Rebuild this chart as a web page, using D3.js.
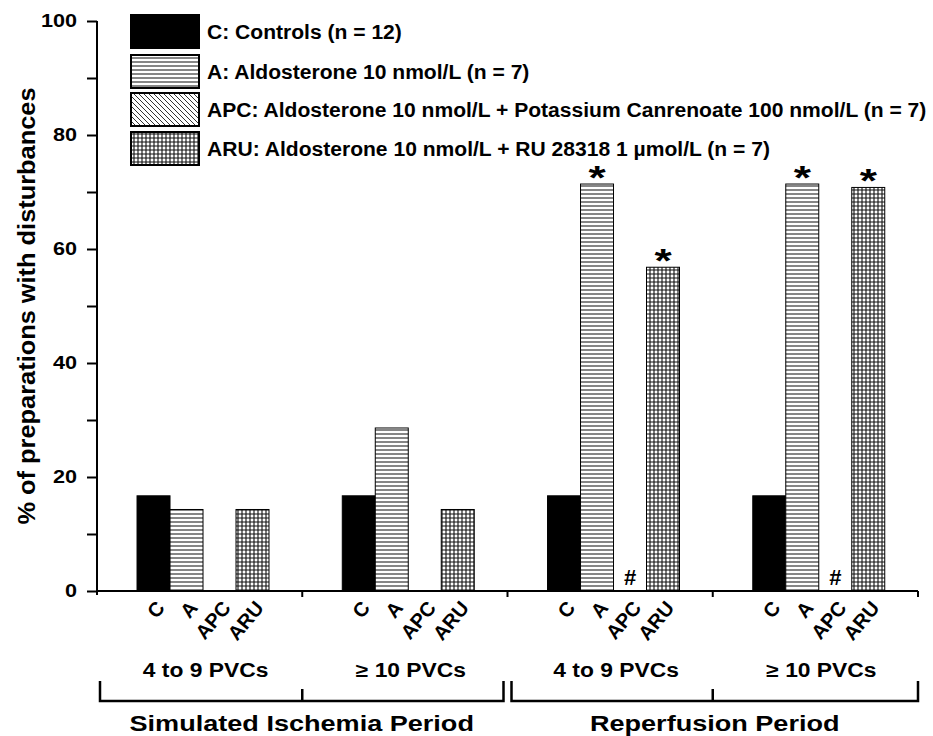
<!DOCTYPE html>
<html>
<head>
<meta charset="utf-8">
<script src="https://cdn.jsdelivr.net/npm/d3@7"></script>
<style>
  body { margin: 0; background: #fff; }
  text { font-family: "Liberation Sans", Arial, sans-serif; font-weight: bold; fill: #000; }
</style>
</head>
<body>
<svg id="chart" width="933" height="736"></svg>
<script>
// data
const groups = ["4 to 9 PVCs", "\u2265 10 PVCs", "4 to 9 PVCs", "\u2265 10 PVCs"];
const treatments = ["C", "A", "APC", "ARU"];
const legendLabels = [
  "C: Controls (n = 12)",
  "A: Aldosterone 10 nmol/L (n = 7)",
  "APC: Aldosterone 10 nmol/L + Potassium Canrenoate 100 nmol/L (n = 7)",
  "ARU: Aldosterone 10 nmol/L + RU 28318 1 \u00b5mol/L (n = 7)"
];
const valuesC = [16.7, 16.7, 16.7, 16.7];
const valuesA = [14.3, 28.6, 71.4, 71.4];
const valuesAPC = [0, 0, 0, 0];
const valuesARU = [14.3, 14.3, 56.8, 70.8];
// significance marks per treatment/group
const marksA = ["", "", "*", "*"];
const marksAPC = ["", "", "#", "#"];
const marksARU = ["", "", "*", "*"];
const periods = ["Simulated Ischemia Period", "Reperfusion Period"];
const yTicks = [0, 10, 20, 30, 40, 50, 60, 70, 80, 90, 100];

const series = {C: valuesC, A: valuesA, APC: valuesAPC, ARU: valuesARU};
const marks = {A: marksA, APC: marksAPC, ARU: marksARU};

let svg = d3.select("#chart");

// the original figure is stretched sideways, so widen the text to match
function stretch(sel, k) {
    sel.each(function() {
        let w = this.getComputedTextLength();
        d3.select(this).attr("textLength", w * k).attr("lengthAdjust", "spacingAndGlyphs");
    });
}

// patterns
let defs = svg.append("defs");
let pH = defs.append("pattern").attr("id", "pat-A")
    .attr("patternUnits", "userSpaceOnUse").attr("width", 8).attr("height", 4);
pH.append("rect").attr("width", 8).attr("height", 4).attr("fill", "#fff");
pH.append("line").attr("x1", 0).attr("x2", 8).attr("y1", 2).attr("y2", 2)
    .attr("stroke", "#222").attr("stroke-width", 1.1);

let pD = defs.append("pattern").attr("id", "pat-APC")
    .attr("patternUnits", "userSpaceOnUse").attr("width", 5).attr("height", 5);
pD.append("rect").attr("width", 5).attr("height", 5).attr("fill", "#fff");
pD.append("path").attr("d", "M0,0 L5,5 M-1,4 L1,6 M4,-1 L6,1")
    .attr("stroke", "#333").attr("stroke-width", 1);

let pG = defs.append("pattern").attr("id", "pat-ARU")
    .attr("patternUnits", "userSpaceOnUse").attr("width", 4).attr("height", 4);
pG.append("rect").attr("width", 4).attr("height", 4).attr("fill", "#fff");
pG.append("path").attr("d", "M0,2 L4,2 M2,0 L2,4")
    .attr("stroke", "#111").attr("stroke-width", 1.1);

const fills = {C: "#000", A: "url(#pat-A)", APC: "url(#pat-APC)", ARU: "url(#pat-ARU)"};

// scales
let x0 = d3.scaleBand().domain(d3.range(groups.length)).range([97, 918]);
let bw = x0.bandwidth();
let x1 = d3.scaleBand().domain(treatments).range([bw * 0.195, bw * 0.838]);
let y = d3.scaleLinear().domain([0, 100]).range([591, 21]);

// bars
let g = svg.append("g");
treatments.forEach(t => {
    g.selectAll(".bar-" + t)
     .data(series[t].map((v, i) => ({v: v, i: i})).filter(d => d.v > 0))
     .join("rect")
     .attr("x", d => x0(d.i) + x1(t))
     .attr("y", d => y(d.v))
     .attr("width", x1.bandwidth())
     .attr("height", d => y(0) - y(d.v))
     .attr("fill", fills[t])
     .attr("stroke", "#000")
     .attr("stroke-width", 1);
});

// significance marks
Object.keys(marks).forEach(t => {
    marks[t].forEach((m, i) => {
        if (!m) return;
        let cx = x0(i) + x1(t) + x1.bandwidth() / 2;
        if (m == "*") {
            svg.append("text").attr("x", cx).attr("y", y(series[t][i]) + 5)
               .attr("text-anchor", "middle").style("font-size", "34px").text(m)
               .call(stretch, 1.3);
        } else {
            svg.append("text").attr("x", cx).attr("y", y(0) - 6)
               .attr("text-anchor", "middle").style("font-size", "22px").text(m);
        }
    });
});

// y axis
let yAxis = d3.axisLeft(y).tickValues(yTicks).tickSize(10).tickPadding(10)
    .tickFormat(d => d % 20 == 0 ? d : "");
let ya = svg.append("g").attr("transform", "translate(97,0)").call(yAxis);
ya.select(".domain").attr("d", "M0," + y(100) + "V" + (y(0) + 4)).attr("stroke-width", 2);
ya.selectAll(".tick line").attr("stroke-width", 2);
ya.selectAll("text").style("font-size", "18px").style("font-family", "Liberation Sans, Arial, sans-serif")
    .style("font-weight", "bold").call(stretch, 1.2);

svg.append("text")
   .attr("transform", "translate(35," + y(50) + ") rotate(-90)")
   .attr("text-anchor", "middle").style("font-size", "23px")
   .text("% of preparations with disturbances")
   .attr("textLength", 437).attr("lengthAdjust", "spacingAndGlyphs");

// x axis baseline + group ticks
svg.append("line").attr("x1", 97).attr("x2", 918).attr("y1", y(0)).attr("y2", y(0))
   .attr("stroke", "#000").attr("stroke-width", 2);
d3.range(1, groups.length + 1).forEach(i => {
    let xx = i < groups.length ? x0(i) : x0(i - 1) + bw;
    svg.append("line").attr("x1", xx).attr("x2", xx).attr("y1", y(0)).attr("y2", y(0) + 6)
       .attr("stroke", "#000").attr("stroke-width", 2);
});

// rotated treatment labels
groups.forEach((gr, i) => {
    treatments.forEach(t => {
        let cx = x0(i) + x1(t) + x1.bandwidth() / 2;
        svg.append("text")
           .attr("transform", "translate(" + (cx + 7) + "," + (y(0) + 13) + ") rotate(-50)")
           .attr("text-anchor", "end").attr("dy", "0.35em")
           .style("font-size", "20px").text(t);
    });
    svg.append("text").attr("x", x0(i) + bw / 2 + 6).attr("y", 677)
       .attr("text-anchor", "middle").style("font-size", "19.5px").text(gr)
       .call(stretch, 1.17);
});

// period brackets
periods.forEach((p, k) => {
    let left = x0(k * 2) + (k == 0 ? 3 : 4);
    let right = k == 0 ? x0(2) - 4 : x0(3) + bw;
    let mid = x0(k * 2 + 1);
    svg.append("path")
       .attr("d", "M" + left + ",681 V701 H" + right + " V681 M" + mid + ",689 V701")
       .attr("fill", "none").attr("stroke", "#000").attr("stroke-width", 2.5);
    svg.append("text").attr("x", (left + right) / 2).attr("y", 731)
       .attr("text-anchor", "middle").style("font-size", "22px").text(p)
       .call(stretch, 1.23);
});

// legend
let leg = svg.append("g");
legendLabels.forEach((l, i) => {
    let t = treatments[i];
    let ly = [15, 55, 93, 132][i];
    leg.append("rect").attr("x", 131).attr("y", ly).attr("width", 68).attr("height", 33)
       .attr("fill", fills[t]).attr("stroke", "#000").attr("stroke-width", 2);
    leg.append("text").attr("x", 207).attr("y", ly + 24)
       .style("font-size", "19.5px").text(l)
       .call(stretch, 1.08);
});
</script>
</body>
</html>
